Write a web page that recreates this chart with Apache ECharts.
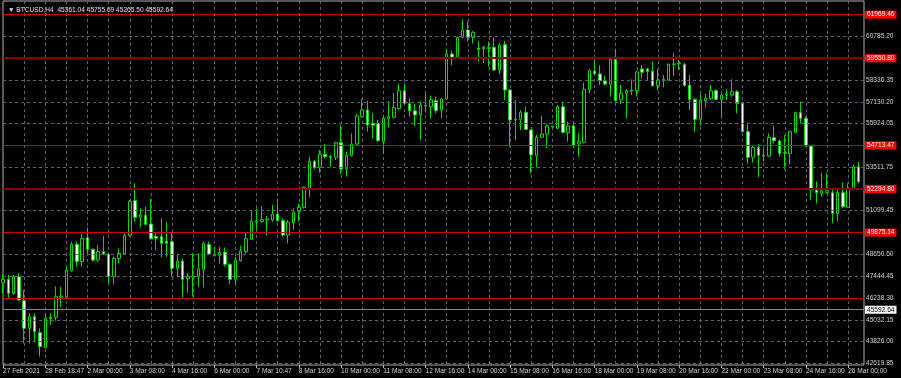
<!DOCTYPE html>
<html><head><meta charset="utf-8">
<script src="https://cdn.jsdelivr.net/npm/echarts@6/dist/echarts.min.js"></script>
<style>html,body{margin:0;padding:0;background:#000;}#c{width:901px;height:378px;}</style>
</head><body><div id="c"></div>
<script>
const symbolInfo = 'BTCUSD,H4';
const lastBarOHLC = [45361.04, 45755.69, 45265.50, 45592.64];
const currentPrice = 45592.64;

const open = [47095,47280,46503,47428,46096,44560,45208,44320,43506,45097,45171,46281,46281,47761,49222,48261,49593,48945,48353,48816,
48686,47428,48446,48686,49722,51646,50740,50832,50350,49666,49648,49389,49371,47890,48297,47317,47391,47428,47835,49222,
48686,48612,48779,48113,47280,48316,48816,49500,50462,50480,50573,50573,50906,50536,49741,50425,51054,51276,52312,53829,
53478,54218,54088,54051,54865,53404,54144,54791,56308,56678,55938,55938,54921,56197,56271,56752,57751,57030,56641,56401,
56900,56863,57196,56678,57289,59786,59601,60711,61118,60711,60101,60082,60138,60156,58898,60323,57788,56123,56160,56549,
55568,54144,55161,55346,55735,55661,56863,55420,55790,54791,54884,57825,58843,58676,58288,58103,59490,57233,57603,57733,
57751,58954,58954,58824,58029,58306,58343,59213,59231,59213,58047,57270,56160,57196,57289,57751,57270,57511,57511,57696,
57048,55476,54051,54606,54162,54125,55143,54958,54273,54273,55439,56530,56216,54680,52238,52053,52090,52090,50943,52090,
51276,52331,53533];
const close = [47280,46503,47428,46133,44560,45208,44375,43543,45115,45171,46318,46355,47798,49222,48261,49556,48945,48353,48816,48686,
47428,48446,48723,49722,51609,50721,50850,50332,49537,49556,49278,49278,47890,48297,47280,47428,47465,47872,49278,48686,
48612,48779,48113,47280,48353,48853,49537,50499,50517,50592,50628,50906,50536,49741,50444,50999,51276,52386,53829,53478,
54218,54088,54051,54865,53404,54162,54791,56345,56678,55846,55827,54976,56216,56308,56808,57751,57048,56641,56401,56956,
56937,57233,56641,57289,59786,59601,60711,61118,60711,60989,60045,60156,60101,58898,60286,57788,56123,56179,56549,55605,
54181,55161,55346,55790,55772,56863,55439,55790,54736,54921,57825,58861,58695,58306,58121,59490,57196,57603,57751,57788,
58787,58769,58824,58029,58343,58380,59213,59231,59268,58047,57270,56160,57233,57326,57751,57270,57511,57548,57696,57048,
55476,54051,54606,54162,54125,55161,54976,54273,54310,55476,56530,56216,54680,52238,52090,52201,52201,50943,52090,51313,
52331,53533,52700];
const low = [46503,46225,46410,46096,43728,43728,43820,42988,43450,44745,44986,45763,46244,47706,47983,47983,48723,48261,48261,48631,
47058,47021,48168,48631,49648,50480,50203,50295,49463,48908,48501,48538,47428,47428,46262,46540,46318,46873,46836,48631,
48538,48168,47983,47021,46966,48261,48723,49463,50018,50425,49722,50480,50480,49648,49278,50018,50480,51220,51831,53385,
53200,53996,53533,53903,53126,52978,54088,54736,56271,55476,55106,54921,54236,55716,56216,56678,57011,56308,55790,55013,
56549,56216,56493,56216,57233,59157,59546,60656,60471,60378,59361,59268,59083,58861,58676,57233,54643,55013,55568,55568,
53163,53496,55106,54551,55698,55624,55383,54921,54551,54088,54828,57603,58621,58066,58029,57418,57141,57011,56216,57511,
57418,58436,58343,57973,57751,57936,58306,58584,58898,57973,56678,55476,55790,56826,57233,57233,56216,57233,57418,56493,
55439,53718,53755,52941,53811,54088,54828,54088,53385,53681,55383,55938,54643,51683,51498,51868,52053,50388,50480,51220,
51276,52238,52608];
const high = [47576,47520,47520,47613,46688,45393,45393,44560,45393,45393,46873,46873,47983,49371,49371,49796,50148,49001,49186,49685,
48723,48538,49001,49833,51683,52608,51220,51313,51738,49925,50665,50480,49833,48631,48446,47613,48723,48723,49371,49371,
49093,49093,49056,48168,48538,49130,49870,51091,51220,51350,50795,51406,51757,50665,50573,51220,51461,52423,54088,53903,
54458,54791,54181,54921,55846,54366,55383,56438,57289,57178,56493,56123,56345,57178,57640,58121,58158,57326,57011,57141,
57659,57474,57418,57344,60045,59971,60748,61710,61581,61063,60508,60230,60471,60693,60415,60508,57825,57233,56678,56863,
55605,55291,56345,55901,55808,56956,57141,56031,56031,55383,58195,58935,59490,59157,58584,59546,60064,58066,57844,58380,
58843,59176,59028,59361,58954,58621,59268,59823,59453,59305,58621,57326,57548,57566,58066,57825,57603,57825,58380,57788,
57141,55938,54699,54791,54551,55383,55790,55050,55291,55531,56586,57141,56308,54736,52700,53200,53163,52238,52331,52645,
52608,53625,53811];

const timeLabels = ['27 Feb 2021','28 Feb 18:47','2 Mar 00:00','3 Mar 08:00','4 Mar 16:00','6 Mar 00:00','7 Mar 10:47',
'8 Mar 16:00','10 Mar 00:00','11 Mar 08:00','12 Mar 16:00','14 Mar 00:00','15 Mar 08:00','16 Mar 16:00','18 Mar 00:00',
'19 Mar 08:00','20 Mar 16:00','22 Mar 00:00','23 Mar 08:00','24 Mar 16:00','26 Mar 00:00'];
const gridLevels = [42619.85,43826.00,45032.15,46238.30,47444.45,48650.60,51099.45,53511.75,55924.05,57130.20,58336.35,60785.20];
const levelLines = [61969.46,59550.80,54713.47,52294.80,49875.14,46238.30];
const heavyLevels = [59550.80,52294.80];

// bar times (4-hour bars), one spare slot at the right edge
const months = ['Jan','Feb','Mar','Apr','May','Jun','Jul','Aug','Sep','Oct','Nov','Dec'];
const barStart = Date.UTC(2021,1,27,0,0);
const categories = [];
for (let i = 0; i <= open.length; i++) {
  const d = new Date(barStart + i*4*3600e3);
  categories.push(d.getUTCDate()+' '+months[d.getUTCMonth()]+' '+String(d.getUTCHours()).padStart(2,'0')+':00');
}
const candles = open.map((o,i)=>[o, close[i], low[i], high[i]]);

const FONT = 'Liberation Sans';
const FS = 6.6;
const GREEN = '#00dc00';
const GRIDC = '#5a6470';

const chart = echarts.init(document.getElementById('c'), null, {renderer:'canvas'});
chart.setOption({
  backgroundColor:'#000',
  animation:false,
  title:{text:'\u25BC '+symbolInfo+'  '+lastBarOHLC.map(v=>v.toFixed(2)).join(' '), left:3, top:2,
    textStyle:{color:'#e0e0e0', fontSize:FS, fontWeight:'normal', fontFamily:FONT}},
  grid:{left:1, right:37, top:1, bottom:13, show:true, borderColor:'#b0b0b0', borderWidth:1, backgroundColor:'#000'},
  xAxis:{type:'category', data:categories, boundaryGap:false,
    axisLine:{show:false},
    axisTick:{show:true, interval:(i)=>i%8===0, length:3, lineStyle:{color:'#b0b0b0'}},
    axisLabel:{interval:(i)=>i%8===0, align:'left', margin:3, color:'#d0d0d0', fontSize:FS, fontFamily:FONT,
      formatter:(v,idx)=> idx%8===0 && timeLabels[idx/8] ? timeLabels[idx/8] : ''},
    splitLine:{show:true, interval:(i)=>i%4===0 && i>0, lineStyle:{color:GRIDC, type:[3,3], width:1}}},
  yAxis:{type:'value', min:42526, max:62728, position:'right',
    axisLine:{show:false}, axisTick:{show:false}, axisLabel:{show:false}, splitLine:{show:false}},
  series:[
    {type:'line', data:[], z:1, silent:true,
      markLine:{silent:true, symbol:['none','none'], animation:false,
        lineStyle:{color:GRIDC, type:[3,3], width:1},
        label:{position:'end', distance:2, color:'#d0d0d0', fontSize:FS, fontFamily:FONT,
          formatter:p=>Number(p.value).toFixed(2)},
        emphasis:{disabled:true},
        data:gridLevels.map(v=>({yAxis:v}))}},
    {type:'candlestick', data:candles, z:3, barWidth:3, clip:false,
      itemStyle:{color:'#000', color0:'#ffffff', borderColor:GREEN, borderColor0:GREEN, borderColorDoji:GREEN, borderWidth:1}},
    {type:'line', data:[], z:4, silent:true,
      markLine:{silent:true, symbol:['none','none'], animation:false, emphasis:{disabled:true},
        data: levelLines.map(v=>{
          const heavy = heavyLevels.includes(v);
          const boxed = !gridLevels.includes(v);
          return {yAxis:v,
            lineStyle:{color: heavy ? '#8a0000' : '#d00000', width: heavy ? 2 : 1, type:'solid'},
            label:{show:boxed, position:'end', distance:1, color:'#ffffff', backgroundColor:'#ff0000',
              padding:[1,2,0,2], fontSize:FS, fontFamily:FONT, formatter:p=>Number(p.value).toFixed(2)}};
        }).concat([{yAxis:currentPrice,
            lineStyle:{color:'#778899', width:1, type:'solid'},
            label:{show:true, position:'end', distance:1, color:'#000', backgroundColor:'#ffffff',
              padding:[1,2,0,2], fontSize:FS, fontFamily:FONT, formatter:p=>Number(p.value).toFixed(2)}}])}}
  ]
});
</script></body></html>
